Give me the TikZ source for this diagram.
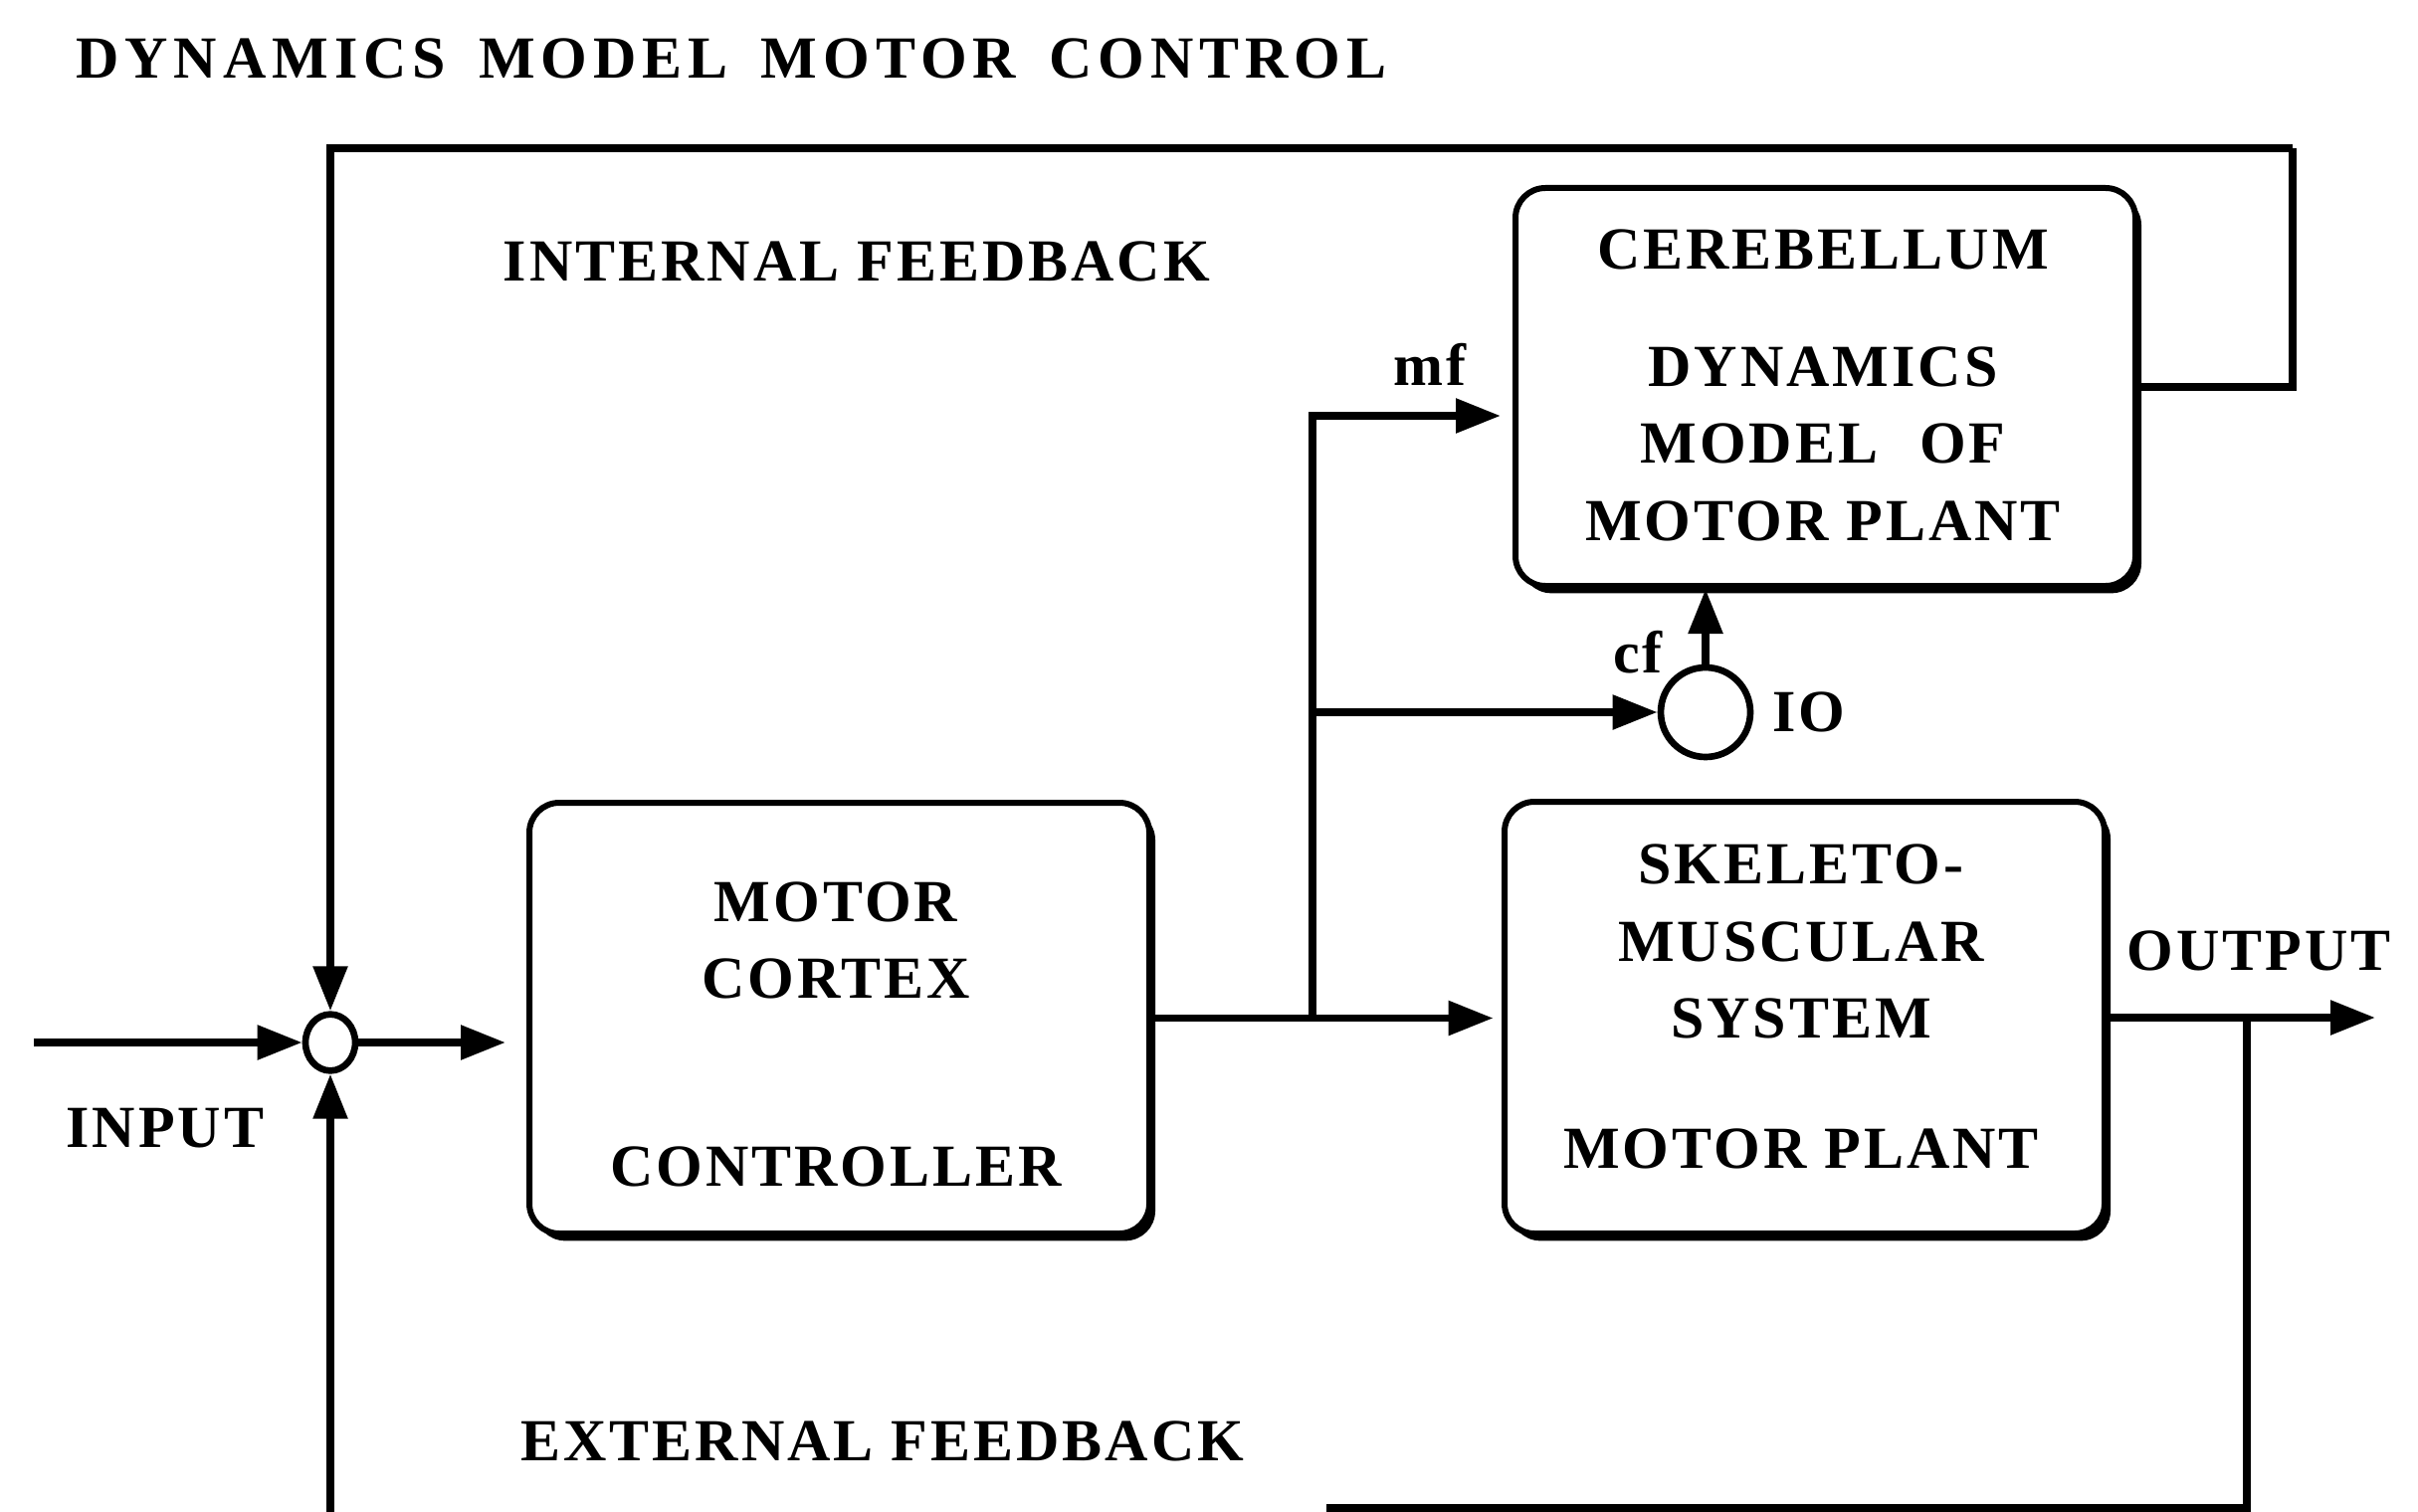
\documentclass[tikz,border=0pt]{standalone}
\usepackage{fontspec}
\setmainfont{Liberation Serif}
\newfontfamily\lbl[LetterSpace=5]{Liberation Serif}
\newfontfamily\ttl[LetterSpace=10]{Liberation Serif}
\usetikzlibrary{arrows.meta,shapes.geometric,fit,shadows}
\begin{document}
\begin{tikzpicture}[x=0.3pt,y=-0.3pt,
  txt/.style={inner sep=0pt, font={\lbl\bfseries\fontsize{18}{20}\selectfont}},
  ttlfont/.style={inner sep=0pt, font={\ttl\bfseries\fontsize{18}{20}\selectfont}},
  blk/.style={draw, line width=1.8pt, rounded corners=9pt, fill=white, inner sep=0pt,
    drop shadow={shadow xshift=1.8pt, shadow yshift=-2.2pt, opacity=1, fill=black}},
  ln/.style={line width=2.3pt},
  arr/.style={ln, -{Triangle[length=13.5pt,width=10pt]}},
]
\path[use as bounding box, fill=white] (0,0) rectangle (2430,1519);

% title
\node[ttlfont] (title) at (735,59) {DYNAMICS\hspace{0.2em} MODEL\hspace{0.2em} MOTOR\hspace{0.2em} CONTROL};

% boxes
\node[blk, fit={(532,807) (1155,1240)}] (mc) {};
\node[blk, fit={(1512,806) (2115,1240)}] (sk) {};
\node[blk, fit={(1523,189) (2146,589)}] (cb) {};

% junctions
\node[draw, ellipse, line width=2pt, minimum width=15pt, minimum height=17pt, inner sep=0pt, fill=white] (sum) at (332,1048) {};
\node[draw, circle, line width=2pt, minimum size=27pt, inner sep=0pt, fill=white] (io) at (1714,716) {};

% box texts
\node[txt] (mc1) at (840,907) {MOTOR};
\node[txt] (mc2) at (840,984) {CORTEX};
\node[txt] (mc3) at (840,1173) {CONTROLLER};
\node[txt] (sk1) at (1810,869) {SKELETO-};
\node[txt] (sk2) at (1810,947) {MUSCULAR};
\node[txt] (sk3) at (1810,1024) {SYSTEM};
\node[txt] (sk4) at (1810,1155) {MOTOR PLANT};
\node[txt] (cb1) at (1832,251) {CEREBELLUM};
\node[txt] (cb2) at (1832,369) {DYNAMICS};
\node[txt] (cb3) at (1832,446) {MODEL\hspace{0.4em} OF};
\node[txt] (cb4) at (1832,524) {MOTOR PLANT};

% labels
\node[txt] (mf) at (1437,366) {mf};
\node[txt] (cf) at (1646,656) {cf};
\node[txt] (iol) at (1818,716) {IO};
\node[txt] (inl) at (166,1134) {INPUT};
\node[txt] (outl) at (2270,956) {OUTPUT};
\node[txt] (intl) at (861,263) {INTERNAL FEEDBACK};
\node[txt] (extl) at (887,1449) {EXTERNAL FEEDBACK};

% coordinates
\coordinate (inp) at (34,1048);
\coordinate (mcin) at (508,1048);
\coordinate (br) at (1319,1023);
\coordinate (mfy) at (1511,418);
\coordinate (tr) at (2304,149);
\coordinate (oend) at (2387,1023);
\coordinate (ob) at (2258,1023);
\coordinate (bl) at (1333,1516);
\coordinate (lb) at (332,1535);

% connectors
\draw[arr] (inp) -- (sum.west);
\draw[arr] (sum.east) -- (mcin);
\draw[arr, shorten >=2.5pt] (mc.east) -- (mc.east -| sk.west);
\draw[arr, shorten >=3.6pt] (br) |- (cb.west |- mfy);
\draw[arr] (br |- io) -- (io.west);
\draw[arr] (io.north) -- (io.north |- cb.south);
\draw[ln] (cb.east) -| (tr);
\draw[arr] (tr) -| (sum.north);
\draw[arr] (sk.east) -- (oend);
\draw[ln] (ob) |- (bl);
\draw[arr] (lb) -- (sum.south);
\end{tikzpicture}
\end{document}
